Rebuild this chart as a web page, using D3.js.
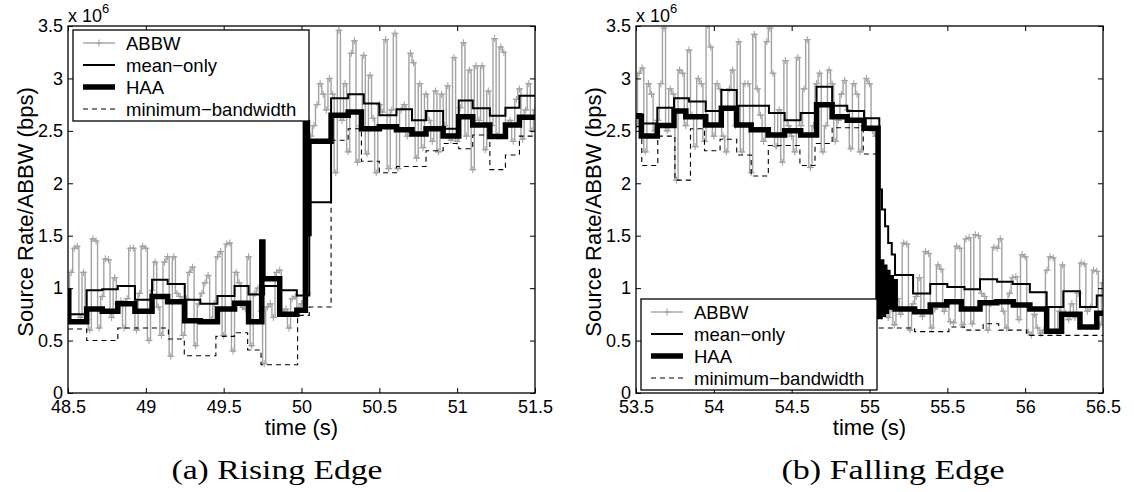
<!DOCTYPE html>
<html>
<head>
<meta charset="utf-8">
<script src="https://cdn.jsdelivr.net/npm/d3@7"></script>
<style>
  body { margin: 0; background: #fff; }
  svg { display: block; }
</style>
</head>
<body>
<svg id="chart" width="1134" height="492"></svg>
<script>
// ---------- data (rates in units of 1e6 bps) ----------
const yTicks = [0, 0.5, 1, 1.5, 2, 2.5, 3, 3.5];
const risingTicks = [48.5, 49, 49.5, 50, 50.5, 51, 51.5];
const fallingTicks = [53.5, 54, 54.5, 55, 55.5, 56, 56.5];
const legendNames = ["ABBW", "mean\u2212only", "HAA", "minimum\u2212bandwidth"];

// ABBW estimates, one sample every 20 ms
const abbwStep = 0.02;
const risingAbbwStart = 48.5;
const risingAbbw = [
  0.95,1.15,1.38,1.40,0.72,1.15,0.70,0.60,1.47,1.45,
  0.62,0.92,1.28,1.27,0.72,1.10,0.85,0.88,0.62,0.90,
  1.38,1.38,0.60,0.95,1.40,1.38,0.50,0.98,1.25,0.82,
  0.55,1.25,1.30,0.35,1.30,0.95,0.92,0.55,0.90,1.15,
  1.20,0.45,0.85,0.95,1.05,1.12,0.70,0.85,1.30,1.35,
  0.55,1.42,1.43,0.40,1.15,1.05,0.82,0.80,1.30,0.45,
  0.95,1.00,0.78,0.28,0.82,0.85,0.72,1.15,1.17,0.78,
  0.80,0.62,0.90,0.92,0.80,0.85,0.88,0.95,2.45,2.55,
  2.75,2.95,2.85,2.70,3.00,2.85,2.10,3.46,2.60,2.95,
  2.30,3.24,3.36,2.20,2.55,3.22,2.28,3.03,2.62,2.10,
  2.75,2.68,3.37,2.14,2.70,3.43,2.14,2.70,2.75,2.45,
  3.24,3.15,2.24,2.95,2.34,2.85,2.60,2.40,2.88,2.30,
  2.85,2.55,2.93,2.41,3.20,2.40,2.72,3.34,2.45,3.08,
  2.13,3.12,2.60,3.12,2.32,2.88,2.55,3.38,2.45,3.30,
  3.25,2.55,2.60,2.40,2.80,2.90,2.42,2.70,2.95,2.50,
  2.70
];
const fallingAbbwStart = 53.5;
const fallingAbbw = [
  2.55,3.05,3.10,2.30,2.95,2.85,2.50,2.60,2.95,3.48,
  2.50,2.90,2.85,2.03,3.08,3.05,2.55,3.27,2.65,2.35,
  3.00,2.95,2.40,3.51,3.30,2.45,2.95,2.90,2.45,2.30,
  2.90,3.08,2.55,3.35,2.30,2.95,2.95,2.10,3.42,2.90,
  2.65,2.40,3.35,3.48,3.05,2.35,2.70,2.20,3.17,2.55,
  2.45,2.30,3.20,2.55,2.90,3.37,2.15,2.55,2.95,3.05,
  2.30,2.55,3.08,2.95,2.40,2.60,2.85,2.98,2.70,2.33,
  2.95,2.85,2.30,2.55,3.00,2.95,2.50,2.45,1.18,0.75,
  0.95,0.72,0.80,0.65,0.90,0.75,1.43,1.42,0.60,0.85,
  0.92,1.10,0.73,1.35,1.33,0.62,0.80,1.22,1.18,0.78,
  0.85,0.68,0.67,1.40,1.38,0.65,1.47,1.48,0.66,1.51,
  1.50,0.95,0.92,0.60,0.85,1.39,1.38,1.47,0.78,0.62,
  0.95,1.10,1.11,0.70,1.32,1.30,0.58,0.55,0.75,0.62,
  0.57,0.60,1.17,1.30,1.29,0.58,0.78,1.22,0.76,0.70,
  0.85,0.72,0.95,1.24,1.23,0.78,0.82,1.17,1.16,0.65,
  1.05
];

// source-rate step series: change times (s) and the rate held from each time on
const risingMeanT = [48.50,48.62,48.72,48.82,48.93,49.04,49.14,49.25,49.35,49.46,49.57,49.66,49.76,49.86,49.97,50.05,50.19,50.30,50.40,50.50,50.61,50.71,50.80,50.91,51.01,51.10,51.21,51.31,51.40];
const risingMeanV = [0.75,0.98,0.99,1.02,0.89,1.08,1.04,0.89,0.85,0.925,1.02,0.94,1.02,0.98,0.93,1.82,2.81,2.85,2.76,2.65,2.705,2.60,2.69,2.52,2.79,2.715,2.645,2.72,2.835];
const risingHaaT = [48.50,48.505,48.62,48.72,48.82,48.93,49.04,49.14,49.25,49.35,49.46,49.57,49.66,49.745,49.752,49.86,49.97,50.025,50.038,50.048,50.19,50.30,50.385,50.50,50.61,50.71,50.80,50.91,51.01,51.10,51.21,51.31,51.40];
const risingHaaV = [0.97,0.68,0.80,0.78,0.85,0.78,0.92,0.87,0.69,0.68,0.80,0.855,0.68,1.44,1.09,0.75,0.79,2.58,1.52,2.40,2.65,2.68,2.52,2.54,2.51,2.47,2.52,2.45,2.635,2.555,2.445,2.555,2.63];
const risingMinT = [48.50,48.62,48.82,49.145,49.247,49.45,49.568,49.654,49.74,49.975,50.05,50.19,50.30,50.385,50.50,50.61,50.80,50.91,51.01,51.10,51.21,51.31,51.40];
const risingMinV = [0.61,0.50,0.62,0.515,0.355,0.54,0.575,0.41,0.27,0.74,0.82,2.41,2.52,2.21,2.10,2.16,2.31,2.38,2.33,2.46,2.13,2.27,2.45];

const fallingMeanT = [53.50,53.534,53.637,53.744,53.84,53.948,54.048,54.147,54.354,54.455,54.558,54.66,54.76,54.857,54.965,55.063,55.08,55.10,55.12,55.143,55.164,55.28,55.39,55.50,55.61,55.71,55.82,55.92,56.03,56.138,56.245,56.352,56.46];
const fallingMeanV = [2.66,2.57,2.72,2.81,2.78,2.69,2.89,2.74,2.67,2.60,2.67,2.92,2.74,2.69,2.62,1.94,1.75,1.59,1.43,1.32,1.125,0.95,1.04,1.01,0.99,1.085,1.06,1.04,0.96,0.82,0.97,0.82,0.93];
const fallingHaaT = [53.50,53.534,53.637,53.744,53.82,53.948,54.048,54.147,54.24,54.35,54.455,54.558,54.66,54.76,54.857,54.965,55.055,55.068,55.078,55.088,55.098,55.108,55.118,55.128,55.14,55.152,55.165,55.29,55.39,55.496,55.59,55.71,55.817,55.924,56.03,56.138,56.234,56.352,56.46];
const fallingHaaV = [2.64,2.45,2.55,2.69,2.635,2.555,2.715,2.555,2.51,2.46,2.50,2.46,2.75,2.635,2.60,2.525,0.73,1.25,0.75,1.20,0.78,1.15,0.85,1.10,0.82,1.06,0.80,0.775,0.84,0.87,0.80,0.86,0.87,0.84,0.80,0.59,0.75,0.63,0.76];
const fallingMinT = [53.50,53.537,53.64,53.75,53.85,53.94,54.04,54.147,54.24,54.35,54.553,54.65,54.76,54.96,55.045,55.29,55.51,55.61,55.73,55.83,56.01];
const fallingMinV = [2.54,2.17,2.45,2.03,2.52,2.31,2.42,2.27,2.07,2.36,2.17,2.38,2.53,2.28,0.62,0.585,0.63,0.60,0.66,0.60,0.55];

// ---------- layout ----------
const svg = d3.select("#chart");
const plotTop = 26, plotBottom = 393;
const GRAY = "#a3a3a3";
const SANS = "'Liberation Sans', Arimo, Arial, Helvetica, sans-serif";
const SERIF = "'Liberation Serif', 'Times New Roman', serif";
const fmt = d3.format("~g");

const panels = [
  {
    id: "rise", left: 68, right: 535, ticks: risingTicks,
    abbwStart: risingAbbwStart, abbw: risingAbbw,
    mean: [risingMeanT, risingMeanV], haa: [risingHaaT, risingHaaV], minbw: [risingMinT, risingMinV],
    legend: { x: 73, y: 30 }, caption: "(a) Rising Edge", captionX: 277, captionW: 211
  },
  {
    id: "fall", left: 636, right: 1103, ticks: fallingTicks,
    abbwStart: fallingAbbwStart, abbw: fallingAbbw,
    mean: [fallingMeanT, fallingMeanV], haa: [fallingHaaT, fallingHaaV], minbw: [fallingMinT, fallingMinV],
    legend: { x: 641, y: 299 }, caption: "(b) Falling Edge", captionX: 893, captionW: 223
  }
];

const plusPath = "M-3.5,0H3.5M0,-3.5V3.5";
const sansText = (sel, size) => sel.attr("font-family", SANS).style("font-family", SANS)
  .style("font-size", size + "px").attr("fill", "#000");

panels.forEach(p => {
  const domain = [p.ticks[0], p.ticks[p.ticks.length - 1]];
  const x = d3.scaleLinear().domain(domain).range([p.left, p.right]);
  const y = d3.scaleLinear().domain([0, 3.5]).range([plotBottom, plotTop]);

  svg.append("clipPath").attr("id", "clip-" + p.id)
    .append("rect").attr("x", p.left).attr("y", plotTop)
    .attr("width", p.right - p.left).attr("height", plotBottom - plotTop);

  const g = svg.append("g").attr("clip-path", `url(#clip-${p.id})`);

  // ABBW samples: grey trace with + markers
  const abbwPts = p.abbw.map((v, i) => [p.abbwStart + i * abbwStep, v]);
  g.append("path")
    .attr("d", d3.line().curve(d3.curveStep).x(d => x(d[0])).y(d => y(d[1]))(abbwPts))
    .attr("fill", "none").attr("stroke", GRAY).attr("stroke-width", 1.4);
  g.selectAll(null).data(abbwPts).enter().append("path")
    .attr("d", plusPath)
    .attr("transform", d => `translate(${x(d[0])},${y(d[1])})`)
    .attr("stroke", GRAY).attr("stroke-width", 1.1).attr("fill", "none");

  // step series, held until the end of the window
  const stepLine = d3.line().curve(d3.curveStepAfter).x(d => x(d[0])).y(d => y(d[1]));
  const stepPts = ([ts, vs]) => {
    const pts = ts.map((t, i) => [t, vs[i]]);
    pts.push([domain[1], vs[vs.length - 1]]);
    return pts;
  };

  g.append("path").attr("d", stepLine(stepPts(p.mean)))
    .attr("fill", "none").attr("stroke", "#000").attr("stroke-width", 2)
    .attr("stroke-linejoin", "miter");
  g.append("path").attr("d", stepLine(stepPts(p.haa)))
    .attr("fill", "none").attr("stroke", "#000").attr("stroke-width", 5.5)
    .attr("stroke-linejoin", "miter");
  g.append("path").attr("d", stepLine(stepPts(p.minbw)))
    .attr("fill", "none").attr("stroke", "#000").attr("stroke-width", 1.1)
    .attr("stroke-dasharray", "5,4");

  // axes with inward ticks on all four sides
  const styleAxis = sel => {
    sel.select(".domain").remove();
    sel.selectAll(".tick line").attr("stroke", "#000").attr("stroke-width", 1);
    sel.selectAll(".tick text").call(sansText, 18);
  };
  svg.append("g").attr("transform", `translate(0,${plotBottom})`)
    .call(d3.axisBottom(x).tickValues(p.ticks).tickFormat(fmt).tickSize(-5).tickPadding(7))
    .call(styleAxis);
  svg.append("g").attr("transform", `translate(0,${plotTop})`)
    .call(d3.axisTop(x).tickValues(p.ticks).tickFormat("").tickSize(-5))
    .call(styleAxis);
  svg.append("g").attr("transform", `translate(${p.left},0)`)
    .call(d3.axisLeft(y).tickValues(yTicks).tickFormat(fmt).tickSize(-5).tickPadding(5))
    .call(styleAxis);
  svg.append("g").attr("transform", `translate(${p.right},0)`)
    .call(d3.axisRight(y).tickValues(yTicks).tickFormat("").tickSize(-5))
    .call(styleAxis);

  svg.append("rect")
    .attr("x", p.left).attr("y", plotTop)
    .attr("width", p.right - p.left).attr("height", plotBottom - plotTop)
    .attr("fill", "none").attr("stroke", "#000").attr("stroke-width", 1.3);

  // exponent note
  const ex = svg.append("text").attr("x", p.left).attr("y", 22).call(sansText, 18);
  ex.append("tspan").text("x 10");
  ex.append("tspan").attr("dy", -9).style("font-size", "13px").text("6");

  // axis titles
  svg.append("text")
    .attr("x", (p.left + p.right) / 2).attr("y", 435)
    .attr("text-anchor", "middle").call(sansText, 22)
    .text("time (s)");
  svg.append("text")
    .attr("transform", `translate(${p.left - 35},${212}) rotate(-90)`)
    .attr("text-anchor", "middle").call(sansText, 22)
    .text("Source Rate/ABBW (bps)");

  // caption
  svg.append("text")
    .attr("x", p.captionX).attr("y", 479)
    .attr("text-anchor", "middle")
    .attr("font-family", SERIF).style("font-family", SERIF)
    .style("font-size", "27px")
    .attr("textLength", p.captionW)
    .attr("lengthAdjust", "spacingAndGlyphs")
    .text(p.caption);

  // legend
  const lg = svg.append("g").attr("transform", `translate(${p.legend.x},${p.legend.y})`);
  lg.append("rect").attr("width", 236).attr("height", 91)
    .attr("fill", "#fff").attr("stroke", "#000").attr("stroke-width", 1.3);
  const rowY = [13, 35, 57, 79];
  const lx0 = 10, lx1 = 42;
  legendNames.forEach((name, i) => {
    const ry = rowY[i];
    const item = lg.append("g");
    if (i === 0) {
      item.append("line").attr("x1", lx0).attr("x2", lx1).attr("y1", ry).attr("y2", ry)
        .attr("stroke", GRAY).attr("stroke-width", 1.4);
      item.append("path").attr("d", plusPath)
        .attr("transform", `translate(${(lx0 + lx1) / 2},${ry})`)
        .attr("stroke", GRAY).attr("stroke-width", 1.1);
    } else {
      item.append("line").attr("x1", lx0).attr("x2", lx1).attr("y1", ry).attr("y2", ry)
        .attr("stroke", "#000")
        .attr("stroke-width", i === 1 ? 2 : i === 2 ? 5.5 : 1.1)
        .attr("stroke-dasharray", i === 3 ? "5,4" : null);
    }
    item.append("text").attr("x", 53).attr("y", ry + 6.5)
      .call(sansText, 18.5).text(name);
  });
});
</script>
</body>
</html>
